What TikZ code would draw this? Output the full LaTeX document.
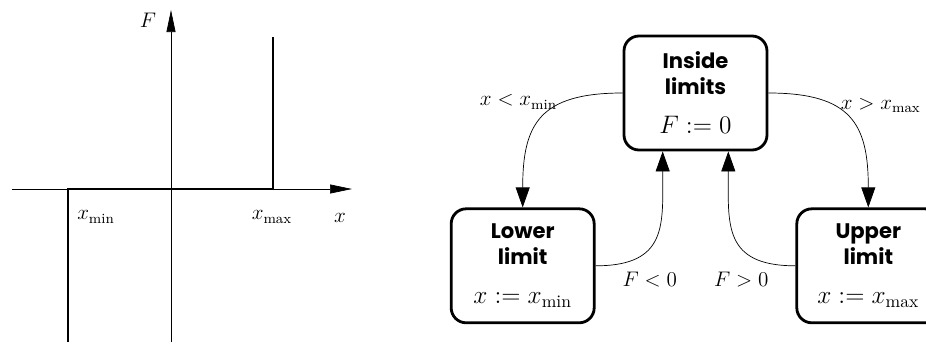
\documentclass[12pt,tikz,border=0pt]{standalone}
\usepackage{fontspec}
\newfontfamily\titlefont{Poppins}
\usetikzlibrary{arrows.meta, positioning, calc}

\begin{document}
\begin{tikzpicture}[
    state/.style={rectangle, draw, line width=1.6pt, rounded corners=0.3cm, minimum width=2.86cm, minimum height=2.28cm, align=center, inner sep=0pt, font=\titlefont\bfseries},
    trans/.style={-{Triangle[length=4mm, width=2.8mm]}},
    axis/.style={-{Triangle[length=4.4mm, width=1.8mm]}},
    curve/.style={line width=1.6pt},
]
    \useasboundingbox (0,0) rectangle (18.52,6.86);

    % saturation characteristic
    \coordinate (xl) at (0.24,3.08);
    \coordinate (xr) at (7.04,3.08);
    \coordinate (yb) at (3.42,0.02);
    \coordinate (yt) at (3.42,6.66);
    \coordinate (lo) at (1.36,0.02);
    \coordinate (xmin) at (1.36,3.08);
    \coordinate (xmax) at (5.46,3.08);
    \coordinate (hi) at (5.46,6.12);
    \draw[axis] (xl) -- (xr);
    \draw[axis] (yb) -- (yt);
    \draw[curve] (lo) -- (xmin) -- (xmax) -- (hi);
    \node (flab) at (2.96,6.46) {$F$};
    \node (xlab) at (6.80,2.50) {$x$};
    \node (minlab) at (1.92,2.52) {$x_{\min}$};
    \node (maxlab) at (5.44,2.52) {$x_{\max}$};

    % state machine
    \node[state] (inside) at (13.91,5.00) {Inside\\limits\\[8pt]\large$F := 0$};
    \node[state, below left=1.12cm and 0.54cm of inside] (lower) {Lower\\limit\\[8pt]\large$x := x_{\min}$};
    \node[state, below right=1.12cm and 0.54cm of inside] (upper) {Upper\\limit\\[8pt]\large$x := x_{\max}$};

    \coordinate (in-l) at ($(inside.south)!0.45!(inside.south west)$);
    \coordinate (in-r) at ($(inside.south)!0.45!(inside.south east)$);

    \draw[trans] (inside.west) to[out=180, in=90, looseness=1.4] node[pos=0.3, left] {$x < x_{\min}$} (lower.north);
    \draw[trans] (inside.east) to[out=0, in=90, looseness=1.4] node[pos=0.35, right] {$x > x_{\max}$} (upper.north);
    \draw[trans] (lower.east) to[out=0, in=-90, looseness=1.4] node[pos=0.1, below right] {$F < 0$} (in-l);
    \draw[trans] (upper.west) to[out=180, in=-90, looseness=1.4] node[pos=0.1, below left] {$F > 0$} (in-r);
\end{tikzpicture}
\end{document}
